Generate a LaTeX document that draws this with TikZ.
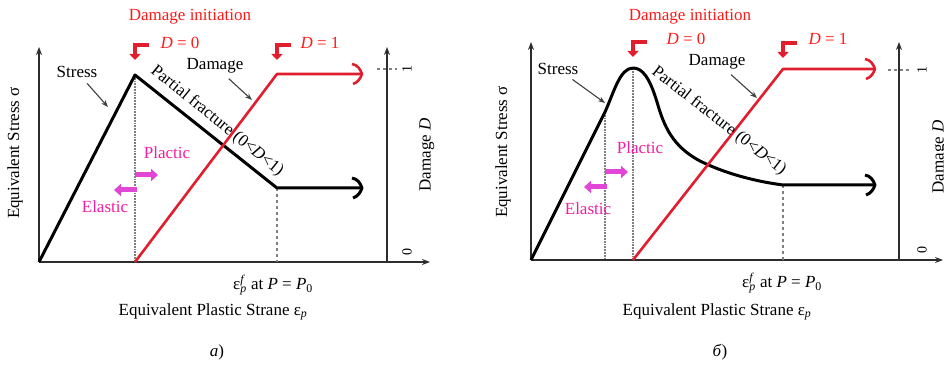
\documentclass[tikz,border=0pt]{standalone}
\usepackage{fontspec}
\setmainfont{Liberation Serif}
\usetikzlibrary{arrows.meta}

\definecolor{dmgred}{RGB}{225,30,45}
\definecolor{txtred}{RGB}{255,25,25}
\definecolor{zonepink}{RGB}{240,30,160}
\definecolor{zonearrow}{RGB}{225,70,215}
\definecolor{axisgray}{RGB}{45,45,45}

\begin{document}
\begin{tikzpicture}[x=1pt,y=1pt,
  axis/.style={axisgray, line width=2pt, -{Stealth[length=8pt,width=6pt]}},
  stressline/.style={black, line width=3pt, line join=round},
  damageline/.style={dmgred, line width=2.6pt, line join=round},
  guide/.style={gray, line width=1.8pt, densely dotted},
  marker/.style={dmgred, line width=4.5pt, -{Triangle[length=6pt,width=11pt]}},
  pointer/.style={darkgray, line width=1.1pt, shorten <=6pt, -{Stealth[length=7pt]}},
  zone/.style={zonearrow, line width=5pt, -{Triangle[length=7pt,width=12pt]}},
  lbl/.style={font=\fontsize{17}{20}\selectfont, inner sep=1pt},
  redlbl/.style={lbl, txtred},
  pinklbl/.style={lbl, zonepink},
  ticklbl/.style={font=\fontsize{14}{16}\selectfont, rotate=90, inner sep=0pt},
]
\useasboundingbox (0,0) rectangle (944,364);

% ================= panel a =================
\coordinate (originA) at (39,102);
\coordinate (peakA) at (135,289);
\coordinate (kneeA) at (277,176);
\coordinate (startA) at (135,102);
\coordinate (fullA) at (277,290);

% Axes
\draw[axis] (originA) -- (39,317);
\draw[axis] (originA) -- (430,102);
\draw[axis] (387,102) -- (387,317);
\draw[gray, line width=1.2pt, dashed] (377,295) -- (397,295);
\node[ticklbl] (oneA) at (407,295) {1};
\node[ticklbl] (zeroA) at (407,112) {0};

% Guides
\draw[guide] (peakA) -- (startA);
\draw[gray, line width=1.2pt, dashed] (kneeA) -- (kneeA |- originA);

% Stress curve
\draw[stressline] (originA) -- (peakA) -- (kneeA) -- (362,176);
\draw[stressline] (352,186) to[out=-10,in=110] (362,176) to[out=-110,in=20] (353,166);

% Damage curve
\draw[damageline] (startA) -- (fullA) -- (362,290);
\draw[damageline] (352,300) to[out=-10,in=110] (362,290) to[out=-110,in=20] (353,280);

% Labels
\node[redlbl] (initA) at (190,347) {Damage initiation};
\draw[marker] (149,319) -- (135,319) -- (135,304);
\draw[marker] (291,319) -- (277,319) -- (277,304);
\node[redlbl] (dzeroA) at (180,321) {\textit{D} = 0};
\node[redlbl] (doneA) at (320,321) {\textit{D} = 1};

\node[lbl] (stressA) at (77,292) {Stress};
\draw[pointer] (stressA) -- (108,257);
\node[lbl] (damageA) at (215,298) {Damage};
\draw[pointer] (damageA) -- (252,264);
\node[lbl, rotate=-39] (fracA) at (217,243) {Partial fracture (0<\textit{D}<1)};

\node[pinklbl] (plasA) at (167,211) {Plactic};
\draw[zone] (135,189) -- (158,189);
\node[pinklbl] (elasA) at (105,157) {Elastic};
\draw[zone] (137,174) -- (114,174);

\node[lbl] (epsA) at (273,79) {ε\rlap{\textsuperscript{\textit{f}}}\textsubscript{\textit{p}} at \textit{P} = \textit{P}\textsubscript{0}};
\node[lbl] (xlblA) at (213,52) {Equivalent Plastic Strane ε\textsubscript{\textit{p}}};
\node[lbl] (capA) at (217,12) {\textit{a})};
\node[lbl, rotate=90] (ylblA) at (15,211) {Equivalent Stress σ};
\node[lbl, rotate=90] (dlblA) at (427,209) {Damage \textit{D}};

% ================= panel b =================
\coordinate (originB) at (531,104);
\coordinate (yieldB) at (605,252);
\coordinate (peakB) at (633,296);
\coordinate (kneeB) at (783,179);
\coordinate (startB) at (633,104);
\coordinate (fullB) at (783,295);

% Axes
\draw[axis] (originB) -- (531,322);
\draw[axis] (originB) -- (943,104);
\draw[axis] (899,104) -- (899,322);
\draw[gray, line width=1.2pt, dashed] (888,294) -- (912,294);
\node[ticklbl] (oneB) at (922,294) {1};
\node[ticklbl] (zeroB) at (922,114) {0};

% Guides
\draw[guide] (yieldB) -- (yieldB |- originB);
\draw[guide] (peakB) -- (startB);
\draw[gray, line width=1.2pt, dashed] (kneeB) -- (kneeB |- originB);

% Stress curve
\draw[stressline] (originB) -- (yieldB)
  .. controls (614,272) and (620,296) .. (peakB)
  .. controls (643,296) and (650,285) .. (657,262)
  .. controls (664,238) and (672,218) .. (700,203)
  .. controls (728,189) and (760,182) .. (kneeB) -- (875,179);
\draw[stressline] (865,189) to[out=-10,in=110] (875,179) to[out=-110,in=20] (866,169);

% Damage curve
\draw[damageline] (startB) -- (fullB) -- (875,295);
\draw[damageline] (865,305) to[out=-10,in=110] (875,295) to[out=-110,in=20] (866,285);

% Labels
\node[redlbl] (initB) at (690,347) {Damage initiation};
\draw[marker] (647,322) -- (633,322) -- (633,307);
\draw[marker] (797,321) -- (783,321) -- (783,306);
\node[redlbl] (dzeroB) at (686,325) {\textit{D} = 0};
\node[redlbl] (doneB) at (828,325) {\textit{D} = 1};

\node[lbl] (stressB) at (558,295) {Stress};
\draw[pointer] (stressB) -- (605,261);
\node[lbl] (damageB) at (717,302) {Damage};
\draw[pointer] (damageB) -- (757,266);
\node[lbl, rotate=-38] (fracB) at (719,243) {Partial fracture (0<\textit{D}<1)};

\node[pinklbl] (plasB) at (640,216) {Plactic};
\draw[zone] (605,192) -- (628,192);
\node[pinklbl] (elasB) at (588,155) {Elastic};
\draw[zone] (607,177) -- (584,177);

\node[lbl] (epsB) at (782,81) {ε\rlap{\textsuperscript{\textit{f}}}\textsubscript{\textit{p}} at \textit{P} = \textit{P}\textsubscript{0}};
\node[lbl] (xlblB) at (717,52) {Equivalent Plastic Strane ε\textsubscript{\textit{p}}};
\node[lbl] (capB) at (720,12) {\textit{б})};
\node[lbl, rotate=90] (ylblB) at (503,212) {Equivalent Stress σ};
\node[lbl, rotate=90] (dlblB) at (940,207) {Damage \textit{D}};
\end{tikzpicture}
\end{document}
